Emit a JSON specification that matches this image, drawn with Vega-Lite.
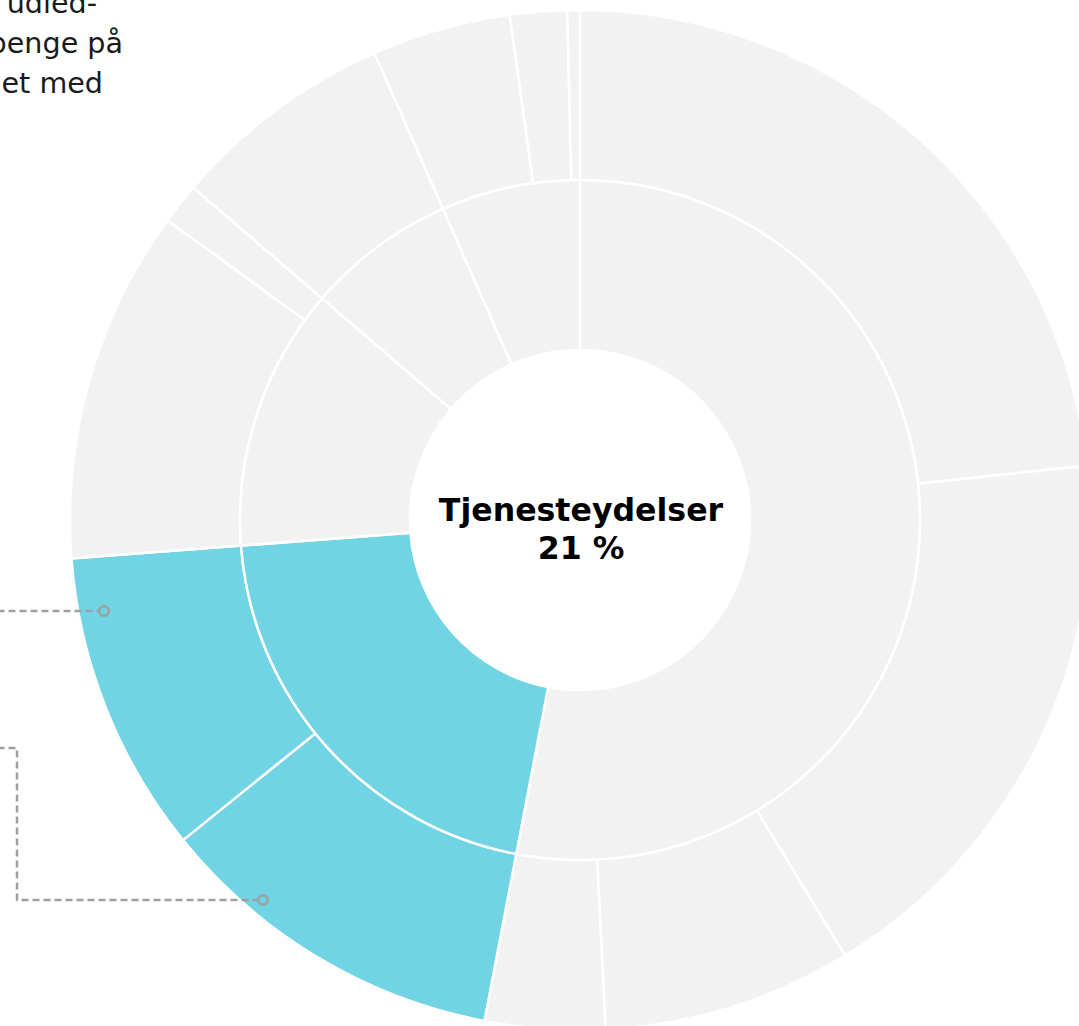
{
  "$schema": "https://vega.github.io/schema/vega-lite/v6.json",
  "width": 1079,
  "height": 1026,
  "padding": 0,
  "autosize": {"type": "none"},
  "background": "white",
  "config": {"view": {"stroke": null}},
  "datasets": {
    "inner": [
      {"segment": "A", "o": 1, "value": 53.0, "group": "Øvrige"},
      {"segment": "Tjenesteydelser", "o": 2, "value": 20.8, "group": "Tjenesteydelser"},
      {"segment": "C", "o": 3, "value": 12.5, "group": "Øvrige"},
      {"segment": "D", "o": 4, "value": 7.1, "group": "Øvrige"},
      {"segment": "E", "o": 5, "value": 6.6, "group": "Øvrige"}
    ],
    "outer": [
      {"segment": "A1", "o": 1, "value": 23.3, "group": "Øvrige"},
      {"segment": "A2", "o": 2, "value": 18.0, "group": "Øvrige"},
      {"segment": "A3", "o": 3, "value": 7.9, "group": "Øvrige"},
      {"segment": "A4", "o": 4, "value": 3.8, "group": "Øvrige"},
      {"segment": "B1", "o": 5, "value": 11.2, "group": "Tjenesteydelser"},
      {"segment": "B2", "o": 6, "value": 9.6, "group": "Tjenesteydelser"},
      {"segment": "C1", "o": 7, "value": 11.2, "group": "Øvrige"},
      {"segment": "C2", "o": 8, "value": 1.3, "group": "Øvrige"},
      {"segment": "D1", "o": 9, "value": 7.1, "group": "Øvrige"},
      {"segment": "E1", "o": 10, "value": 4.4, "group": "Øvrige"},
      {"segment": "E2", "o": 11, "value": 1.8, "group": "Øvrige"},
      {"segment": "E3", "o": 12, "value": 0.4, "group": "Øvrige"}
    ],
    "center": [
      {"label": "Tjenesteydelser\n21 %", "u": 0, "v": 0}
    ],
    "leaders": [
      {"line": 1, "pt": 1, "u": -1.25, "v": -0.1784},
      {"line": 1, "pt": 2, "u": -0.9431, "v": -0.1784},
      {"line": 2, "pt": 1, "u": -1.25, "v": -0.4471},
      {"line": 2, "pt": 2, "u": -1.1039, "v": -0.4471},
      {"line": 2, "pt": 3, "u": -1.1039, "v": -0.7451},
      {"line": 2, "pt": 4, "u": -0.6314, "v": -0.7451}
    ],
    "dots": [
      {"line": 1, "u": -0.9333, "v": -0.1784},
      {"line": 2, "u": -0.6216, "v": -0.7451}
    ],
    "notes": [
      {"text": "udied-", "u": -0.9471, "v": 0.9951},
      {"text": "penge på", "u": -0.8961, "v": 0.9157},
      {"text": "et med", "u": -0.9353, "v": 0.8363}
    ]
  },
  "layer": [
    {
      "data": {"name": "outer"},
      "mark": {"type": "arc", "innerRadius": 340, "radius": 510, "stroke": "white", "strokeWidth": 2.5, "clip": true},
      "encoding": {
        "theta": {"field": "value", "type": "quantitative", "stack": true, "scale": {"domain": [0, 100]}},
        "order": {"field": "o", "type": "quantitative"},
        "color": {"field": "group", "type": "nominal", "scale": {"domain": ["Tjenesteydelser", "Øvrige"], "range": ["#70d4e4", "#f2f2f2"]}, "legend": null},
        "x": {"datum": 0, "type": "quantitative", "scale": {"domain": [-1.13725, 0.97843], "nice": false, "zero": false}, "axis": null},
        "y": {"datum": 0, "type": "quantitative", "scale": {"domain": [-0.99216, 1.01961], "nice": false, "zero": false}, "axis": null}
      }
    },
    {
      "data": {"name": "inner"},
      "mark": {"type": "arc", "innerRadius": 170, "radius": 340, "stroke": "white", "strokeWidth": 2.5, "clip": true},
      "encoding": {
        "theta": {"field": "value", "type": "quantitative", "stack": true, "scale": {"domain": [0, 100]}},
        "order": {"field": "o", "type": "quantitative"},
        "color": {"field": "group", "type": "nominal", "scale": {"domain": ["Tjenesteydelser", "Øvrige"], "range": ["#70d4e4", "#f2f2f2"]}, "legend": null},
        "x": {"datum": 0, "type": "quantitative", "axis": null},
        "y": {"datum": 0, "type": "quantitative", "axis": null}
      }
    },
    {
      "data": {"name": "center"},
      "mark": {"type": "text", "font": "DejaVu Sans", "fontWeight": "bold", "fontSize": 31.6, "lineHeight": 38, "lineBreak": "\n", "align": "center", "baseline": "alphabetic", "color": "#000000", "dy": 1, "dx": 1},
      "encoding": {
        "text": {"field": "label"},
        "x": {"field": "u", "type": "quantitative", "axis": null},
        "y": {"field": "v", "type": "quantitative", "axis": null}
      }
    },
    {
      "data": {"name": "leaders"},
      "mark": {"type": "line", "stroke": "#a0a0a0", "strokeWidth": 2.5, "strokeDash": [7, 4], "clip": true, "interpolate": "linear"},
      "encoding": {
        "detail": {"field": "line"},
        "order": {"field": "pt", "type": "quantitative"},
        "x": {"field": "u", "type": "quantitative", "axis": null},
        "y": {"field": "v", "type": "quantitative", "axis": null}
      }
    },
    {
      "data": {"name": "dots"},
      "mark": {"type": "point", "shape": "circle", "filled": false, "stroke": "#a0a0a0", "strokeWidth": 2.5, "size": 90, "opacity": 1},
      "encoding": {
        "x": {"field": "u", "type": "quantitative", "axis": null},
        "y": {"field": "v", "type": "quantitative", "axis": null}
      }
    },
    {
      "data": {"name": "notes"},
      "mark": {"type": "text", "font": "DejaVu Sans", "fontSize": 28.6, "align": "right", "baseline": "alphabetic", "color": "#1a1a1a", "clip": true},
      "encoding": {
        "text": {"field": "text"},
        "x": {"field": "u", "type": "quantitative", "axis": null},
        "y": {"field": "v", "type": "quantitative", "axis": null}
      }
    }
  ]
}
